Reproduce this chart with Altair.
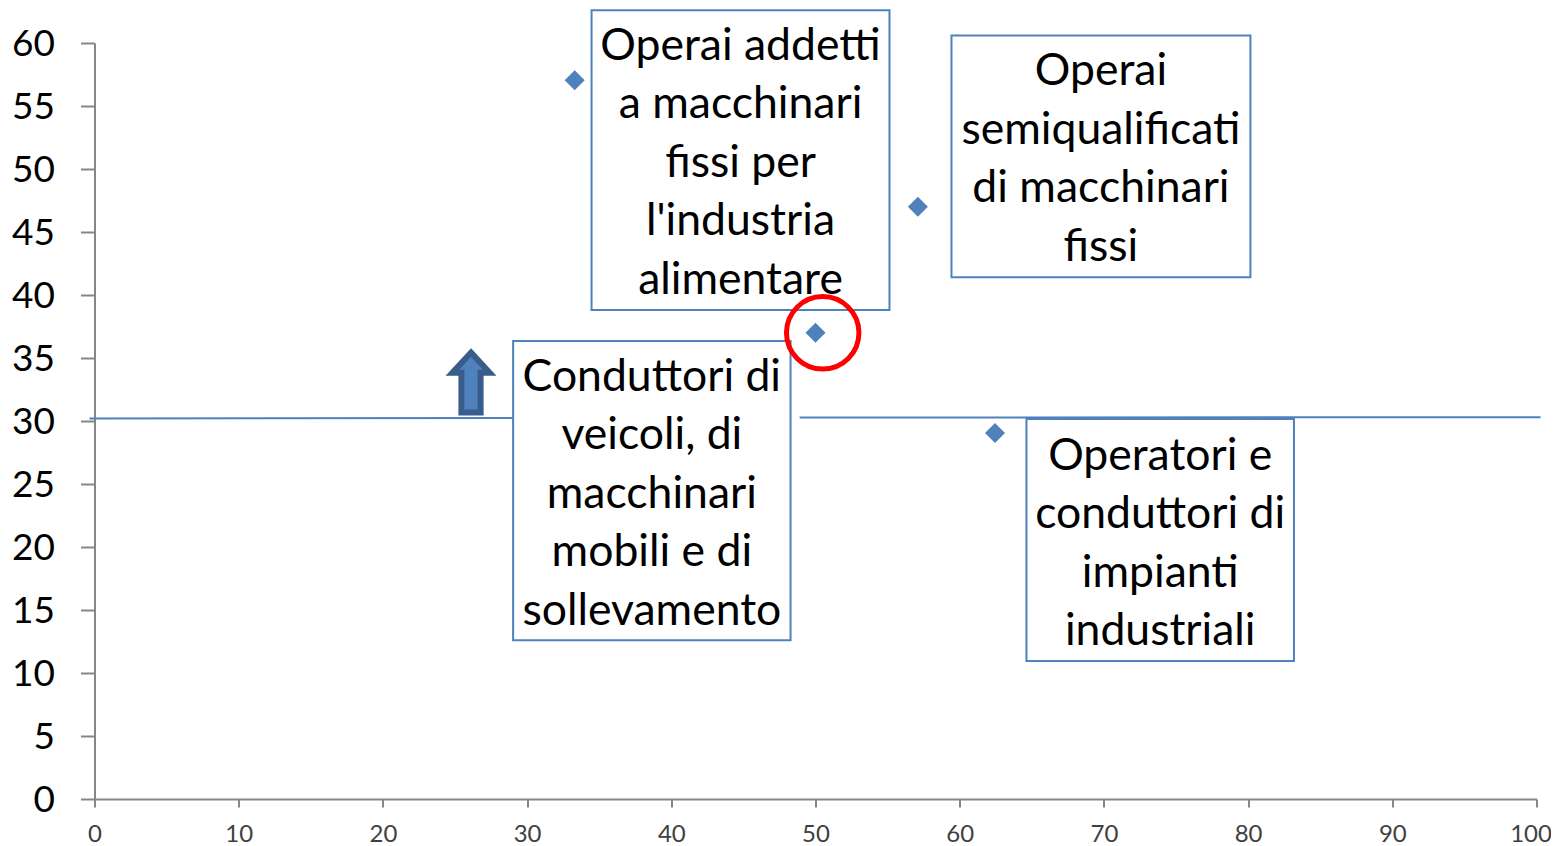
import altair as alt
import pandas as pd

BLUE = "#4f81bd"
FONT = "Lato"

# scatter points
pt_x = [33.3, 57.1, 50.0, 62.45]
pt_y = [57.05, 47.0, 37.0, 29.05]

# label boxes
box_text = [
    "Operai addetti\na macchinari\nfissi per\nl'industria\nalimentare",
    "Operai\nsemiqualificati\ndi macchinari\nfissi",
    "Conduttori di\nveicoli, di\nmacchinari\nmobili e di\nsollevamento",
    "Operatori e\nconduttori di\nimpianti\nindustriali",
]
box_x1 = [34.47, 59.43, 29.03, 64.63]
box_x2 = [55.13, 80.16, 48.27, 83.18]
box_y1 = [38.8, 41.4, 12.6, 10.95]
box_y2 = [62.6, 60.6, 36.35, 30.15]
first_line_y = [59.72, 57.66, 33.45, 27.18]

# horizontal reference line, two stretches either side of a box
ref_x = [-0.35, 29.0, 48.9, 100.28]
ref_y = [30.2, 30.24, 30.28, 30.3]
ref_seg = ["a", "a", "b", "b"]

# highlight circle and arrow
circle_x = [50.5]
circle_y = [37.0]
arrow_x = [26.11]
arrow_y = [33.05]

x_scale = alt.Scale(domain=[0, 100], nice=False, zero=False)
y_scale = alt.Scale(domain=[0, 60], nice=False, zero=False)
X_ticks = list(range(0, 101, 10))
Y_ticks = list(range(0, 61, 5))

x_axis = alt.Axis(values=X_ticks, title=None, grid=False, labelFontSize=24, labelColor="#404040",
                  labelFont=FONT, tickSize=8, tickColor="#868686", tickWidth=2, domainColor="#868686",
                  domainWidth=2, labelPadding=15, labelFlush=False, labelOverlap=False,
                  labelOffset=alt.expr("datum.value == 100 ? -6 : 0"))
y_axis = alt.Axis(values=Y_ticks, title=None, grid=False, labelFontSize=37, labelColor="#000000",
                  labelFont=FONT, tickSize=14, tickColor="#868686", tickWidth=2, domainColor="#868686",
                  domainWidth=2, labelPadding=26, labelFlush=False, labelOverlap=False, labelOffset=1)

df_pts = pd.DataFrame({"x": pt_x, "y": pt_y})
df_box = pd.DataFrame({"x": box_x1, "x2": box_x2, "y": box_y1, "y2": box_y2,
                       "label": box_text, "ty": first_line_y})
df_box["cx"] = (df_box.x + df_box.x2) / 2
df_ref = pd.DataFrame({"x": ref_x, "y": ref_y, "seg": ref_seg})

base_x = alt.X("x:Q", scale=x_scale, axis=x_axis)
base_y = alt.Y("y:Q", scale=y_scale, axis=y_axis)

ref = alt.Chart(df_ref).mark_line(color=BLUE, strokeWidth=2, clip=False).encode(
    x=base_x, y=base_y, detail="seg:N")

boxes = alt.Chart(df_box).mark_rect(fill="white", stroke=BLUE, strokeWidth=2, clip=False).encode(
    x=alt.X("x:Q", scale=x_scale, axis=x_axis), x2="x2:Q",
    y=alt.Y("y:Q", scale=y_scale, axis=y_axis), y2="y2:Q")

labels = alt.Chart(df_box).mark_text(font=FONT, fontSize=44.5, color="black", align="center",
                                     baseline="middle", lineBreak="\n", lineHeight=58.5).encode(
    x=alt.X("cx:Q", scale=x_scale, axis=x_axis),
    y=alt.Y("ty:Q", scale=y_scale, axis=y_axis),
    text="label:N")

points = alt.Chart(df_pts).mark_point(shape="diamond", filled=True, size=400, color=BLUE, opacity=1).encode(
    x=base_x, y=base_y)

arrow = alt.Chart(pd.DataFrame({"x": arrow_x, "y": arrow_y})).mark_point(
    shape="M0,-1 L0.62,-0.33 L0.32,-0.33 L0.32,1 L-0.32,1 L-0.32,-0.33 L-0.62,-0.33 Z",
    filled=True, size=3600, fill=BLUE, stroke="#385d8a", strokeWidth=6, opacity=1, fillOpacity=1, strokeOpacity=1
).encode(x=base_x, y=base_y)

circle = alt.Chart(pd.DataFrame({"x": circle_x, "y": circle_y})).mark_point(
    shape="circle", filled=False, size=5256, stroke="#ff0000", strokeWidth=5, opacity=1
).encode(x=base_x, y=base_y)

chart = (ref + arrow + boxes + labels + points + circle).properties(
    width=1442, height=756,
    autosize=alt.AutoSizeParams(type="none"),
    padding={"left": 86.5, "top": 35, "right": 14.5, "bottom": 47},
).configure_view(stroke=None)

chart.save("out.html", embed_options={"renderer": "svg", "actions": False})
